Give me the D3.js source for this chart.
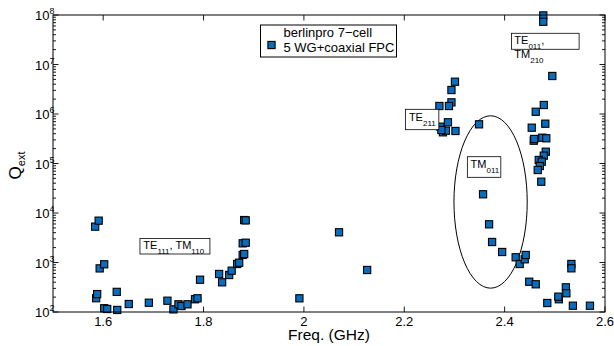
<!DOCTYPE html>
<html>
<head>
<meta charset="utf-8">
<script src="https://cdn.jsdelivr.net/npm/d3@7"></script>
<style>
  body { margin: 0; background: #fff; }
  svg text { font-family: "Liberation Sans", Arial, Helvetica, sans-serif; fill: #000; }
</style>
</head>
<body>
<div id="chart"></div>
<script>
// mode frequencies (GHz) and external Q
const freq = [
  1.584, 1.591, 1.593, 1.602, 1.586, 1.588, 1.627, 1.602, 1.608, 1.628,
  1.651, 1.691, 1.728, 1.740, 1.750, 1.756, 1.768, 1.783, 1.788, 1.793,
  1.831, 1.837, 1.851, 1.856, 1.867, 1.871, 1.878, 1.881, 1.878, 1.884,
  1.881, 1.884, 1.991, 2.070, 2.126,
  2.301, 2.294, 2.294, 2.289, 2.270, 2.287, 2.272, 2.277, 2.283, 2.274, 2.302,
  2.349, 2.357, 2.369, 2.375, 2.395, 2.422, 2.430, 2.440, 2.442, 2.449,
  2.462, 2.485, 2.508, 2.507, 2.522, 2.523, 2.533, 2.533, 2.536, 2.570,
  2.477, 2.477, 2.495, 2.478, 2.462, 2.454, 2.481, 2.458, 2.459, 2.475,
  2.483, 2.482, 2.478, 2.468, 2.474, 2.470, 2.466, 2.473
];
const qext = [
  5300, 7000, 760, 920, 190, 230, 255, 119, 115, 110,
  145, 154, 169, 113, 143, 132, 143, 181, 189, 449,
  586, 398, 559, 683, 933, 990, 1420, 1485, 2440, 2510,
  7200, 7100, 189, 4075, 706,
  4.49e6, 3.05e6, 1.72e6, 1.45e6, 1.45e6, 6.8e5, 5.54e5, 4.27e5, 4.6e5, 4.75e5, 4.54e5,
  6.19e5, 2.39e4, 5910, 2595, 1630, 1274, 933, 1160, 1418, 409,
  363, 152, 181, 204, 315, 239, 933, 763, 134, 134,
  9.8e7, 7.3e7, 5.86e6, 1.52e6, 1.11e6, 5.29e5, 6.37e5, 2.89e5, 3.13e5, 3.32e5,
  3.23e5, 1.73e5, 1.44e5, 1.18e5, 1.09e5, 8.9e4, 7.39e4, 4.29e4
];
const xTicks = [1.6, 1.8, 2, 2.2, 2.4, 2.6];
const xTickLabels = ["1.6", "1.8", "2", "2.2", "2.4", "2.6"];
const yTickExps = [2, 3, 4, 5, 6, 7, 8];
const legendLines = ["berlinpro 7\u2212cell", "5 WG+coaxial FPC"];
const xTitle = "Freq. (GHz)";

var width = 614, height = 346;
var margin = { top: 15, right: 9, bottom: 34, left: 53 };
var innerW = width - margin.left - margin.right,
    innerH = height - margin.top - margin.bottom;

var svg = d3.select("#chart").append("svg")
  .attr("width", width)
  .attr("height", height);

var x = d3.scaleLinear().domain([1.5, 2.6]).range([margin.left, margin.left + innerW]);
var y = d3.scaleLog().domain([1e2, 1e8]).range([margin.top + innerH, margin.top]);

var pL = margin.left, pR = margin.left + innerW,
    pT = margin.top, pB = margin.top + innerH;

// ticks (matlab style, pointing inwards, on all four sides)
var tickG = svg.append("g").attr("stroke", "#000").attr("stroke-width", 0.9);
xTicks.forEach(function (t) {
  tickG.append("line").attr("x1", x(t)).attr("x2", x(t)).attr("y1", pB).attr("y2", pB - 5.5);
  tickG.append("line").attr("x1", x(t)).attr("x2", x(t)).attr("y1", pT).attr("y2", pT + 5.5);
});
yTickExps.forEach(function (e) {
  var v = Math.pow(10, e);
  tickG.append("line").attr("x1", pL).attr("x2", pL + 5.5).attr("y1", y(v)).attr("y2", y(v));
  tickG.append("line").attr("x1", pR).attr("x2", pR - 5.5).attr("y1", y(v)).attr("y2", y(v));
  if (e < 8) {
    for (var m = 2; m < 10; m++) {
      var mv = m * v;
      tickG.append("line").attr("x1", pL).attr("x2", pL + 3).attr("y1", y(mv)).attr("y2", y(mv));
      tickG.append("line").attr("x1", pR).attr("x2", pR - 3).attr("y1", y(mv)).attr("y2", y(mv));
    }
  }
});

// tick labels
svg.append("g").selectAll("text")
  .data(xTicks)
  .enter().append("text")
  .attr("x", d => x(d))
  .attr("y", pB + 14)
  .attr("text-anchor", "middle")
  .style("font-size", "13px")
  .text((d, i) => xTickLabels[i]);

var yl = svg.append("g").selectAll("text")
  .data(yTickExps)
  .enter().append("text")
  .attr("x", pL + 1.5)
  .attr("y", d => y(Math.pow(10, d)) + 5)
  .attr("text-anchor", "end")
  .style("font-size", "13px");
yl.append("tspan").text("10");
yl.append("tspan").attr("dy", -6).style("font-size", "9px").text(d => d);

// axis titles
svg.append("text")
  .attr("x", (pL + pR) / 2)
  .attr("y", 340)
  .attr("text-anchor", "middle")
  .style("font-size", "15.5px")
  .text(xTitle);

var yt = svg.append("text")
  .attr("transform", "translate(20.5," + ((pT + pB) / 2 + 2) + ")rotate(-90)")
  .attr("text-anchor", "middle")
  .style("font-size", "17px");
yt.append("tspan").text("Q");
yt.append("tspan").attr("dy", 4).style("font-size", "11px").text("ext");

// ellipse around the TM011 branch
var ecx = x(2.372), ecy = y(1.67e4);
svg.append("ellipse")
  .attr("cx", ecx).attr("cy", ecy)
  .attr("rx", ecx - x(2.299))
  .attr("ry", ecy - y(9.2e5))
  .attr("fill", "none")
  .attr("stroke", "#000")
  .attr("stroke-width", 1);

// markers
var ms = 7.2;
svg.append("g").selectAll("rect")
  .data(freq.map((f, i) => ({ f: f, q: qext[i] })))
  .enter().append("rect")
  .attr("x", d => x(d.f) - ms / 2)
  .attr("y", d => y(d.q) - ms / 2)
  .attr("width", ms)
  .attr("height", ms)
  .attr("fill", "#0a6cbd")
  .attr("stroke", "#000")
  .attr("stroke-width", 1.1);

// mode annotations: box corners and text anchor in data units
function modeLabel(box, tx, ty, parts) {
  svg.append("rect")
    .attr("x", x(box[0])).attr("y", y(box[2]))
    .attr("width", x(box[1]) - x(box[0]))
    .attr("height", y(box[3]) - y(box[2]))
    .attr("fill", "#fff")
    .attr("stroke", "#000")
    .attr("stroke-width", 0.8);
  parts.forEach(function (line, li) {
    var t = svg.append("text")
      .attr("x", x(tx))
      .attr("y", y(ty) + li * 14.3)
      .style("font-size", "11px");
    var sub = false;
    line.forEach(function (p) {
      var s = t.append("tspan").text(p[0]);
      if (p[1] && !sub) { s.attr("dy", 5).style("font-size", "8px"); sub = true; }
      else if (!p[1] && sub) { s.attr("dy", -5); sub = false; }
    });
  });
}
modeLabel([1.6733, 1.8127, 3053, 1485], 1.680, 1900,
  [[["TE", 0], ["111", 1], [", TM", 0], ["110", 1]]]);
modeLabel([2.2022, 2.2689, 1.244e6, 4.82e5], 2.2092, 7.32e5,
  [[["TE", 0], ["211", 1]]]);
modeLabel([2.3257, 2.3924, 1.372e5, 5.26e4], 2.3321, 8.3e4,
  [[["TM", 0], ["011", 1]]]);
modeLabel([2.4137, 2.5484, 4.27e7, 2.03e7], 2.4193, 2.6e7,
  [[["TE", 0], ["011", 1], [",", 0]], [["TM", 0], ["210", 1]]]);

// axes box
svg.append("rect")
  .attr("x", pL).attr("y", pT)
  .attr("width", innerW).attr("height", innerH)
  .attr("fill", "none")
  .attr("stroke", "#000")
  .attr("stroke-width", 1);

// legend
var lg = svg.append("g");
lg.append("rect")
  .attr("x", 260.5).attr("y", 25)
  .attr("width", 136).attr("height", 32)
  .attr("fill", "#fff")
  .attr("stroke", "#000")
  .attr("stroke-width", 1);
lg.append("rect")
  .attr("x", 271.5 - ms / 2).attr("y", 45 - ms / 2)
  .attr("width", ms).attr("height", ms)
  .attr("fill", "#0a6cbd")
  .attr("stroke", "#000")
  .attr("stroke-width", 1.1);
lg.selectAll("text.lg")
  .data(legendLines)
  .enter().append("text")
  .attr("class", "lg")
  .attr("x", 283.5)
  .attr("y", (d, i) => 37 + i * 14.5)
  .style("font-size", "13px")
  .text(d => d);
</script>
</body>
</html>
